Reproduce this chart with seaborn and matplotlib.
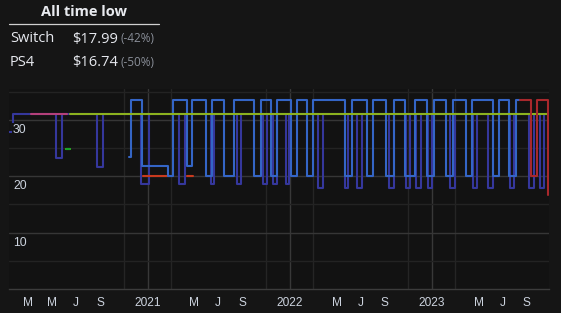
import numpy as np
import pandas as pd
import matplotlib
matplotlib.use('Agg')
import matplotlib.pyplot as plt
from matplotlib.lines import Line2D
import seaborn as sns

# ---- data (step change points, price holds until next date; nan = gap) ----
eshop_dates = ['2020-01-11', '2020-01-22', '2020-05-10', '2020-05-25', '2020-08-23', '2020-09-08',
               '2020-12-14', '2021-01-04', '2021-03-22', '2021-04-07', '2021-06-12', '2021-06-20',
               '2021-08-18', '2021-08-28', '2021-10-25', '2021-11-02', '2021-11-19', '2021-11-28',
               '2021-12-21', '2021-12-30', '2022-03-13', '2022-03-27', '2022-05-22', '2022-05-31',
               '2022-06-22', '2022-07-05', '2022-09-11', '2022-09-25', '2022-10-25', '2022-11-04',
               '2022-11-21', '2022-12-04', '2022-12-21', '2022-12-31', '2023-02-15', '2023-03-01',
               '2023-04-17', '2023-04-26', '2023-05-24', '2023-06-06', '2023-07-20', '2023-07-31',
               '2023-09-07', '2023-09-19', '2023-10-04', '2023-10-15', '2023-10-25']
eshop_prices = [27.89, 30.99, 23.24, 30.99, 21.69, 30.99,
                18.59, 30.99, 18.59, 30.99, 18.59, 30.99,
                18.59, 30.99, 18.59, 30.99, 18.59, 30.99,
                18.59, 30.99, 17.99, 30.99, 17.99, 30.99,
                17.99, 30.99, 17.99, 30.99, 17.99, 30.99,
                17.99, 30.99, 17.99, 30.99, 17.99, 30.99,
                17.99, 30.99, 17.99, 30.99, 17.99, 30.99,
                17.99, 30.99, 17.99, 30.99, np.nan]

psstore_dates = ['2020-11-15', '2020-11-18', '2020-12-18', '2021-02-21', '2021-03-08', '2021-04-11',
                 '2021-04-25', '2021-05-31', '2021-06-16', '2021-07-17', '2021-08-10', '2021-10-02',
                 '2021-10-18', '2021-11-13', '2021-11-30', '2022-01-03', '2022-01-18', '2022-02-13',
                 '2022-03-01', '2022-05-22', '2022-06-09', '2022-07-17', '2022-08-02', '2022-09-04',
                 '2022-09-24', '2022-10-24', '2022-11-18', '2022-12-18', '2023-01-05', '2023-02-05',
                 '2023-02-24', '2023-03-29', '2023-04-14', '2023-06-05', '2023-06-22', '2023-07-18',
                 '2023-08-04', '2023-08-15']
psstore_prices = [23.44, 33.49, 21.77, 20.09, 33.49, 21.77,
                  33.49, 20.09, 33.49, 20.09, 33.49, 20.09,
                  33.49, 20.09, 33.49, 20.09, 33.49, 20.09,
                  33.49, 20.09, 33.49, 20.09, 33.49, 20.09,
                  33.49, 20.09, 33.49, 20.09, 33.49, 20.09,
                  33.49, 20.09, 33.49, 20.09, 33.49, 20.09,
                  33.49, np.nan]

ps4_late_dates = ['2023-08-15', '2023-09-11', '2023-09-27', '2023-10-25', '2023-10-26']
ps4_late_prices = [33.49, 20.09, 33.49, 16.74, np.nan]

ps4_early_dates = ['2020-12-20', '2021-02-27', '2021-04-11', '2021-04-26']
ps4_early_prices = [20.09, np.nan, 20.09, np.nan]

switch_a_dates = ['2020-03-08', '2020-06-08']
switch_a_prices = [30.99, np.nan]

switch_b_dates = ['2020-06-05', '2020-06-15', '2020-06-16', '2023-10-25']
switch_b_prices = [24.79, np.nan, 30.99, np.nan]

tick_dates = ['2020-03-01', '2020-05-01', '2020-07-01', '2020-09-01', '2021-01-01', '2021-05-01',
              '2021-07-01', '2021-09-01', '2022-01-01', '2022-05-01', '2022-07-01', '2022-09-01',
              '2023-01-01', '2023-05-01', '2023-07-01', '2023-09-01']
tick_labels = ['M', 'M', 'J', 'S', '2021', 'M', 'J', 'S', '2022', 'M', 'J', 'S', '2023', 'M', 'J', 'S']
year_dates = ['2021-01-01', '2022-01-01', '2023-01-01']
y_labels = [10, 20, 30]

summary_names = ['Switch', 'PS4']
summary_prices = ['$17.99', '$16.74']
summary_cuts = ['(-42%)', '(-50%)']

BG = '#151515'
PLOT_BG = '#121212'
TXT = '#ccd3de'


def segments(dates, prices):
    """Split step series at nan entries; each run gets its end point."""
    segs, cur = [], []
    for d, p in zip(pd.to_datetime(dates), prices):
        if np.isnan(p):
            if cur:
                cur.append((d, cur[-1][1]))
                segs.append(cur)
                cur = []
        else:
            cur.append((d, p))
    if cur:
        segs.append(cur)
    return [pd.DataFrame(s, columns=['date', 'price']) for s in segs]


sns.set_theme(style='dark')
plt.rcParams['font.family'] = ['Liberation Sans', 'DejaVu Sans']

fig = plt.figure(figsize=(5.61, 3.13), dpi=100, facecolor=BG)
ax = fig.add_axes([9 / 561, 24 / 313, 539.7 / 561, 200 / 313])
ax.set_facecolor(PLOT_BG)

series = [
    (eshop_dates, eshop_prices, '#35379c', 2),
    (ps4_early_dates, ps4_early_prices, '#c83a1e', 2.5),
    (psstore_dates, psstore_prices, '#3465c6', 3),
    (switch_a_dates, switch_a_prices, '#b4407a', 4),
    (switch_b_dates, switch_b_prices, '#8cb21f', 4),
    (ps4_late_dates, ps4_late_prices, '#a8282c', 5),
]
for dates, prices, color, z in series:
    for seg in segments(dates, prices):
        sns.lineplot(data=seg, x='date', y='price', ax=ax, color=color, lw=1.5,
                     drawstyle='steps-post', estimator=None, sort=False, zorder=z)

# the tiny green dash in June 2020 is drawn in a brighter green
dash = segments(switch_b_dates, switch_b_prices)[0]
sns.lineplot(data=dash, x='date', y='price', ax=ax, color='#16a326', lw=1.5,
             drawstyle='steps-post', estimator=None, zorder=4.5)

ax.set_xlim(pd.Timestamp('2020-01-11'), pd.Timestamp('2023-10-27'))
ax.set_ylim(0, 35.46)
ax.set_xlabel('')
ax.set_ylabel('')

ax.set_yticks(y_labels)
ax.set_yticks([5, 15, 25, 35], minor=True)
ax.grid(axis='y', which='major', color='#363636', lw=1)
ax.grid(axis='y', which='minor', color='#232323', lw=1)

ax.set_xticks(pd.to_datetime(tick_dates))
ax.set_xticklabels(tick_labels)
ax.set_xticks(pd.date_range('2020-03-01', '2023-09-01', freq='2MS'), minor=True)
ax.grid(axis='x', which='major', visible=False)
ax.grid(axis='x', which='minor', color='#252525', lw=1)
for d in pd.to_datetime(year_dates):
    ax.axvline(d, color='#383838', lw=1, zorder=0.5)
ax.set_axisbelow(True)

ax.tick_params(axis='x', which='both', length=0, pad=6, labelsize=8.6, labelcolor=TXT)
ax.tick_params(axis='y', which='both', length=0, labelleft=False)
for s in ['top', 'right', 'left']:
    ax.spines[s].set_visible(False)
ax.spines['bottom'].set_color('#3c3c3c')
ax.spines['bottom'].set_linewidth(1)

for v in y_labels:
    ax.annotate(str(v), xy=(0, v), xycoords=('axes fraction', 'data'),
                xytext=(4, -10), textcoords='offset pixels', ha='left', va='center',
                fontsize=8.8, color=TXT, zorder=10,
                bbox=dict(facecolor=PLOT_BG, edgecolor='none', pad=0.5))

# ---- all time low box ----
W, H = 561, 313
fig.text(84 / W, 1 - 12 / H, 'All time low', ha='center', va='center', fontsize=10.5,
         fontweight='bold', color='#e8eaef', family=['Open Sans', 'DejaVu Sans'])
fig.add_artist(Line2D([9 / W, 159 / W], [1 - 24 / H] * 2, transform=fig.transFigure,
                      color='#d0d0d0', lw=0.9))
for i, (name, price, cut) in enumerate(zip(summary_names, summary_prices, summary_cuts)):
    y = 1 - (39 + 23.7 * i) / H
    fig.text(10 / W, y, name, ha='left', va='center', fontsize=10.5, color='#e6e8ee',
             family=['Open Sans', 'DejaVu Sans'])
    fig.text(72.5 / W, y, price, ha='left', va='center', fontsize=10.5, color='#e6e8ee',
             family=['Open Sans', 'DejaVu Sans'])
    fig.text(120.5 / W, y, cut, ha='left', va='center', fontsize=8.5, color='#8a8f99',
             family=['Open Sans', 'DejaVu Sans'])

fig.savefig('out.png', dpi=100, facecolor=BG)
